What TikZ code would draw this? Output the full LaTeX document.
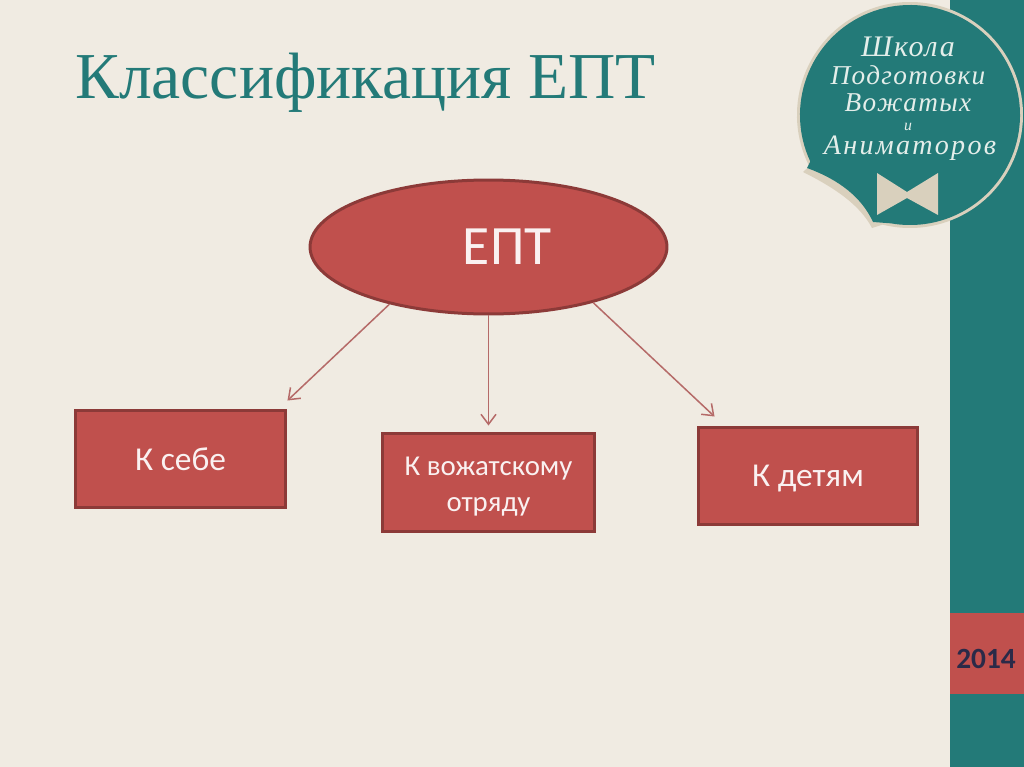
\documentclass[tikz,border=0pt]{standalone}
\usepackage{fontspec}
\usetikzlibrary{shapes.geometric,arrows.meta}
\setmainfont{Carlito}
\newfontfamily\titlefont{Liberation Serif}
\newfontfamily\logofont{Liberation Serif}
\definecolor{paper}{HTML}{F0EBE2}
\definecolor{band}{HTML}{237A78}
\definecolor{brick}{HTML}{C0504D}
\definecolor{brickdark}{HTML}{8C3A38}
\definecolor{thinred}{HTML}{B56A68}
\definecolor{ring}{HTML}{D9D0BD}
\definecolor{logotext}{HTML}{E4EEEA}
\definecolor{yeartext}{HTML}{2B2A48}
\tikzset{
  box/.style={draw=brickdark, fill=brick, line width=0.06cm, text=white!92!brick, align=center, font=\fontsize{19pt}{23pt}\selectfont},
  link/.style={draw=thinred, line width=0.03cm, -{Straight Barb[length=0.2cm,width=0.3cm]}},
  logoline/.style={text=logotext, inner sep=0pt, font=\logofont\itshape\fontsize{15.5pt}{18pt}\selectfont\addfontfeature{LetterSpace=5}}
}
\begin{document}
\begin{tikzpicture}[x=0.02cm,y=0.02cm]
	\useasboundingbox (0,0) rectangle (1024,-767);
	\fill [paper] (0,0) rectangle (1024,-767);
	\fill [band] (950,0) rectangle (1024,-767);
	\fill [brick] (950,-613) rectangle (1024,-694);
	\node [font=\bfseries\fontsize{16.7pt}{20pt}\selectfont, text=yeartext] (year) at (986,-659) {2014};
	\node [anchor=west, inner sep=0pt, text=band, font=\titlefont\fontsize{37.3pt}{42pt}\selectfont] (heading) at (75,-83) {Классификация ЕПТ};
	% logo
	\fill [ring] (809.3,-166.3) arc (207:-104:113) -- (872,-228) .. controls (860,-205) and (835,-188) .. (803,-172) -- cycle;
	\fill [band] (810.3,-161.5) arc (205:-100:110) -- (873,-222) .. controls (862,-198) and (840,-180) .. (807,-168) -- cycle;
	\node [logoline, font=\logofont\itshape\fontsize{17pt}{20pt}\selectfont\addfontfeature{LetterSpace=6}] (school) at (908,-47) {Школа};
	\node [logoline] (training) at (908,-75) {Подготовки};
	\node [logoline] (leaders) at (908,-103) {Вожатых};
	\node [logoline, font=\logofont\itshape\fontsize{9pt}{10pt}\selectfont] (conj) at (908,-127) {и};
	\node [logoline, font=\logofont\itshape\fontsize{16pt}{18pt}\selectfont\addfontfeature{LetterSpace=8}] (animators) at (910,-148) {Аниматоров};
	\fill [ring] (877,-173) -- (907,-192) -- (938,-173) -- (938,-215) -- (907,-198) -- (877,-215) -- cycle;
	% scheme
	\node [ellipse, draw=brickdark, fill=brick, line width=0.06cm, minimum width=7.14cm, minimum height=2.68cm, inner sep=0pt, text=white!92!brick, font=\fontsize{31.6pt}{36pt}\selectfont] (ept) at (488.5,-247) {\hspace*{0.75cm}ЕПТ};
	\node [box, minimum width=4.22cm, minimum height=1.96cm] (self) at (180.5,-459) {К себе};
	\node [box, minimum width=4.26cm, minimum height=1.98cm, font=\fontsize{16.4pt}{20.5pt}\selectfont] (squad) at (488.5,-482.5) {\rule{0pt}{15.5pt}К вожатскому\\отряду};
	\node [box, minimum width=4.4cm, minimum height=1.96cm] (kids) at (808,-476) {\rule{0pt}{15.5pt}К детям};
	\draw [link] (ept.210) -- ([yshift=0.16cm]self.north east);
	\draw [link] (ept.south) -- ([yshift=0.12cm]squad.north);
	\draw [link] (ept.-28) -- ([xshift=0.36cm, yshift=0.18cm]kids.north west);
\end{tikzpicture}
\end{document}
